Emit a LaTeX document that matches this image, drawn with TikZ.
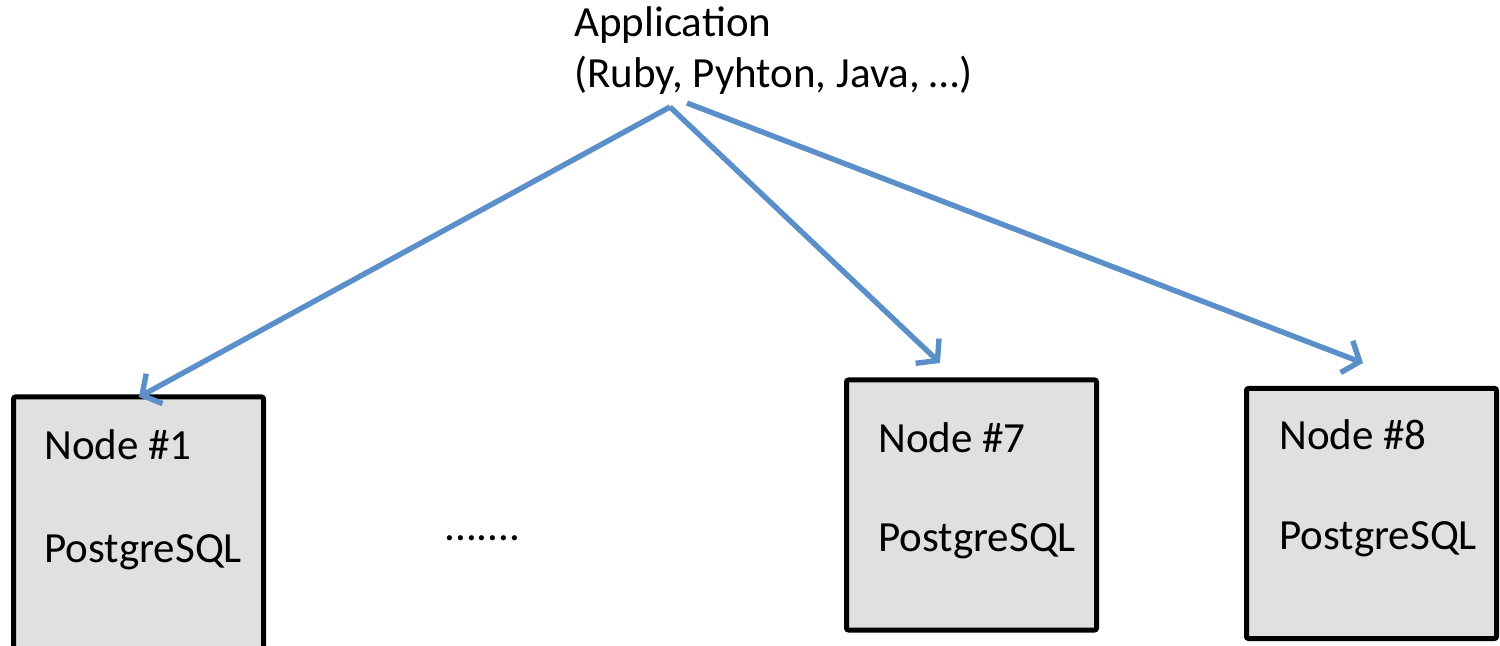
\documentclass[tikz,border=0pt]{standalone}
\usepackage{fontspec}
\setmainfont{Carlito}
\usetikzlibrary{arrows.meta}
\definecolor{linkblue}{RGB}{91,143,201}
\definecolor{boxgray}{RGB}{224,224,224}
\tikzset{
    dbbox/.style={draw=black,fill=boxgray,line width=2.5pt,rounded corners=1pt,
        minimum width=125pt,minimum height=125pt,inner sep=0pt},
    lbl/.style={anchor=base west,inner sep=0pt,font=\fontsize{21.5}{25}\selectfont},
    link/.style={draw=linkblue,line width=2.7pt,
        -{Straight Barb[length=7pt,width=17pt,line width=2.7pt]}},
}

\begin{document}
\begin{tikzpicture}[x=0.5pt,y=-0.5pt]
\useasboundingbox (0,0) rectangle (1500,646);
% application on top
\node[lbl] (app)  at (574,37) {Application};
\node[lbl] (lang) at (574,88) {(Ruby, Pyhton, Java, …)};
\coordinate (src)  at (670,107);
\coordinate (src2) at (687,103);
% database nodes
\node[dbbox,minimum height=135pt] (n1) at (138.5,532) {};
\node[dbbox] (n7) at (971.5,505) {};
\node[dbbox] (n8) at (1371.5,513.5) {};
\node[lbl] (n1name) at (44,460)  {Node \#1};
\node[lbl] (n1db)   at (44,562)  {PostgreSQL};
\node[lbl] (n7name) at (878,453) {Node \#7};
\node[lbl] (n7db)   at (878,552) {PostgreSQL};
\node[lbl] (n8name) at (1279,450) {Node \#8};
\node[lbl] (n8db)   at (1279,550) {PostgreSQL};
\node[lbl] (dots)   at (444,541) {.......};
% arrow ends
\coordinate (t1) at (139,397);
\coordinate (t7) at (940,363);
\coordinate (t8) at (1363,363);
\draw[link] (src) -- (t1);
\draw[link] (src) -- (t7);
\draw[link] (src2) -- (t8);
\end{tikzpicture}
\end{document}
